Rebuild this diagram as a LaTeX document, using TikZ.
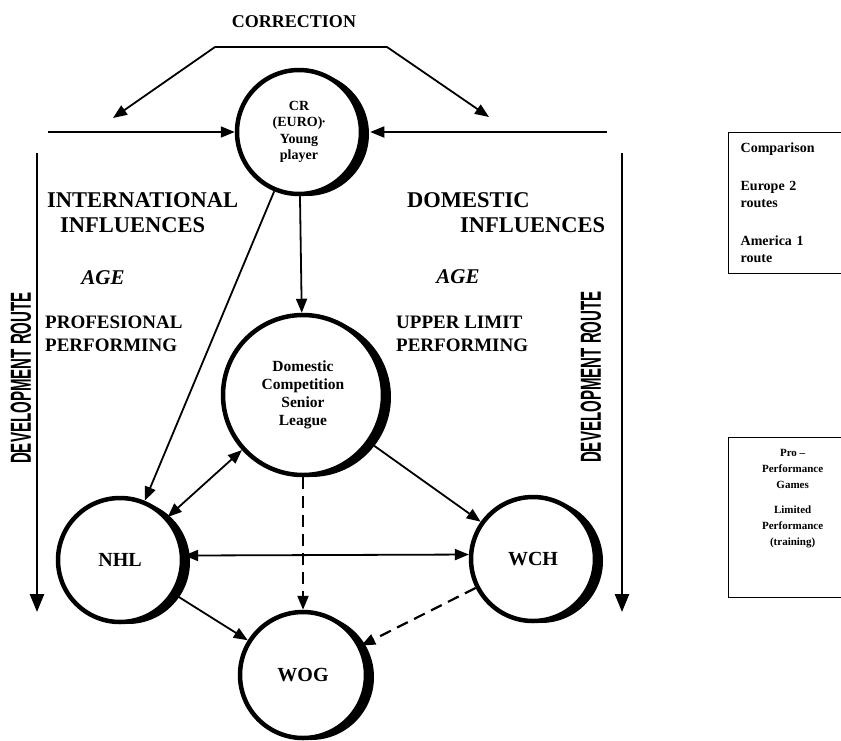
\documentclass[tikz,border=0pt]{standalone}
\usepackage{fontspec}
\setmainfont{Liberation Serif}
\newfontfamily\routefont{Liberation Sans}
\usepackage{graphicx}
\usepackage{tikz}
\usetikzlibrary{positioning}
\usetikzlibrary{shadows}
\usetikzlibrary{arrows.meta}

\begin{document}
\begin{tikzpicture}[x=1pt, y=-1pt, >={Triangle[length=14pt, width=11pt]},
ringnode/.style={circle, draw=black, fill=white, line width=4.5pt, align=center, inner sep=0pt, general shadow={fill=black, shadow xshift=8pt, shadow yshift=-2pt}},
linkline/.style={line width=1.8pt},
dashline/.style={line width=2.2pt, dash pattern=on 12pt off 7pt},
routeline/.style={line width=2.6pt, -{Triangle[length=18pt, width=14pt]}},
headtext/.style={font=\bfseries\fontsize{22.5}{24}\selectfont, inner sep=0pt},
agetext/.style={font=\bfseries\itshape\fontsize{21}{24}\selectfont, inner sep=0pt},
perftext/.style={font=\bfseries\fontsize{19}{23}\selectfont, align=left, inner sep=0pt},
routetext/.style={font=\routefont\bfseries\fontsize{29}{30}\selectfont, rotate=90, inner sep=0pt},
notebox/.style={draw=black, line width=1.3pt, font=\bfseries\fontsize{14}{17}\selectfont}]
\useasboundingbox (0,0) rectangle (841,740);

% circles
\node[ringnode, minimum size=124pt, font=\bfseries\fontsize{14}{16.5}\selectfont] (cr) at (299,132) {CR\\(EURO)\raisebox{2pt}{\fontsize{8}{8}\selectfont\textbullet}\\Young\\player};
\node[ringnode, minimum size=160pt, font=\bfseries\fontsize{15.5}{18}\selectfont] (dom) at (303,395) {Domestic\\Competition\\Senior\\League};
\node[ringnode, minimum size=124pt, font=\bfseries\fontsize{20}{22}\selectfont] (nhl) at (120,560) {NHL};
\node[ringnode, minimum size=124pt, font=\bfseries\fontsize{20}{22}\selectfont] (wch) at (533,559) {WCH};
\node[ringnode, minimum size=126pt, font=\bfseries\fontsize{20}{22}\selectfont] (wog) at (303,675) {WOG};

% correction bracket
\node[headtext, font=\bfseries\fontsize{18}{20}\selectfont] (corr) at (294,22) {CORRECTION};
\coordinate (corrL) at (215,47);
\coordinate (corrR) at (387,47);
\coordinate (corrtipL) at (113,118);
\coordinate (corrtipR) at (489,117);
\draw[linkline, <->] (corrtipL) -- (corrL) -- (corrR) -- (corrtipR);

% feeds into the young player
\coordinate (feedL) at (48,132);
\coordinate (feedR) at (607,132);
\draw[linkline, ->] (feedL) -- (cr.west);
\draw[linkline, ->] (feedR) -- ([xshift=7pt]cr.east);

% development routes
\coordinate (routeLtop) at (37,153);
\coordinate (routeLend) at (37,612);
\coordinate (routeRtop) at (622,153);
\coordinate (routeRend) at (622,612);
\draw[routeline] (routeLtop) -- (routeLend);
\draw[routeline] (routeRtop) -- (routeRend);
\node[routetext] (routeLlbl) at (21,378) {\scalebox{0.52}[1]{DEVELOPMENT ROUTE}};
\node[routetext] (routeRlbl) at (591,377) {\scalebox{0.52}[1]{DEVELOPMENT ROUTE}};

% influences
\node[headtext, anchor=west] (intl) at (47,200) {INTERNATIONAL};
\node[headtext, anchor=west] (intlinf) at (60,225) {INFLUENCES};
\node[agetext] (intlage) at (103,278) {AGE};
\node[perftext, anchor=west] (prof) at (45,334) {PROFESIONAL\\PERFORMING};
\node[headtext, anchor=west] (domh) at (407,200) {DOMESTIC};
\node[headtext, anchor=west] (dominf) at (460,225) {INFLUENCES};
\node[agetext] (domage) at (458,277) {AGE};
\node[perftext, anchor=west] (upper) at (396,334) {UPPER LIMIT\\PERFORMING};

% connectors
\draw[linkline, ->] (cr) -- (dom);
\draw[linkline, ->] (cr) -- (nhl);
\draw[linkline, <->] (dom) -- (nhl);
\draw[linkline, ->] (dom) -- (wch);
\draw[linkline, <->] (nhl.4) -- (wch.176);
\draw[linkline, ->] (nhl) -- (wog);
\draw[dashline, ->] (dom) -- (wog);
\draw[dashline, ->] (wch) -- (wog);

% side notes
\node[notebox, anchor=west, align=left, text width=101pt, inner xsep=12pt, minimum height=141pt] (cmpbox) at (728,203) {Comparison\\[21pt]Europe 2\\routes\\[21pt]America 1\\route};
\node[notebox, anchor=north west, minimum width=130pt, minimum height=160pt] (perfbox) at (728,437) {};
\node[align=center, font=\bfseries\fontsize{11}{16}\selectfont, below=9pt of perfbox.north, xshift=-1pt] (perfnote) {Pro --\\Performance\\Games\\[9pt]Limited\\Performance\\(training)};
\end{tikzpicture}
\end{document}
